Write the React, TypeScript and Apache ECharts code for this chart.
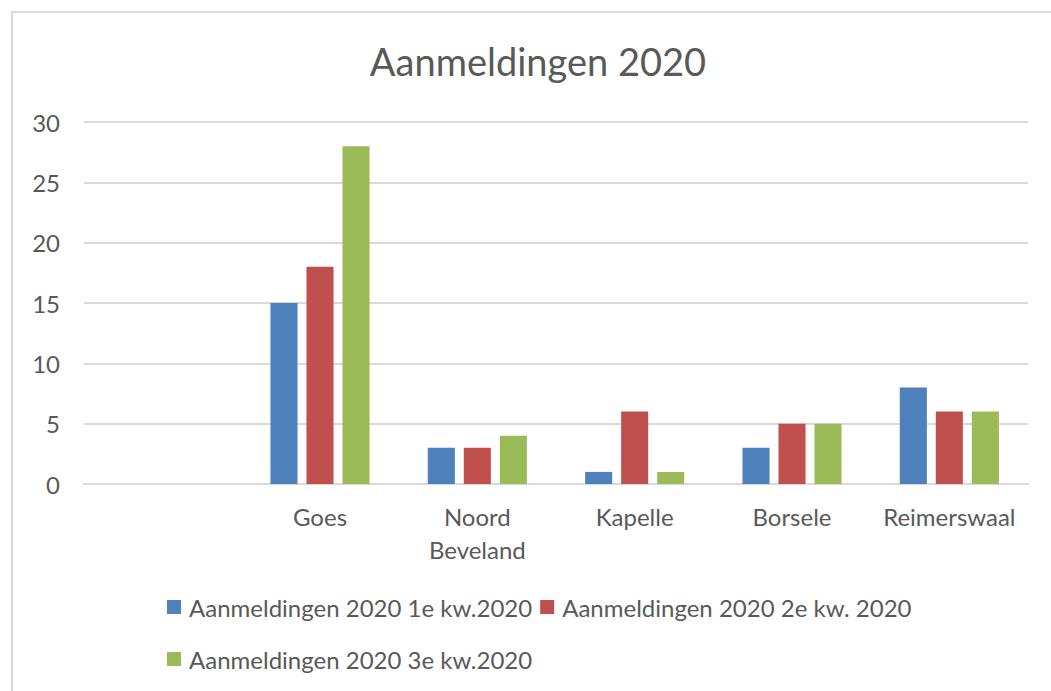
import React, { useEffect, useRef } from "react";
import * as echarts from "echarts";

const categories = ["", "Goes", "Noord\nBeveland", "Kapelle", "Borsele", "Reimerswaal"];
const seriesNames = [
  "Aanmeldingen 2020 1e kw.2020",
  "Aanmeldingen 2020 2e kw. 2020",
  "Aanmeldingen 2020 3e kw.2020",
];
const q1 = [null, 15, 3, 1, 3, 8];
const q2 = [null, 18, 3, 6, 5, 6];
const q3 = [null, 28, 4, 1, 5, 6];
const colors = ["#4f81bd", "#c0504d", "#9bbb59"];

const FONT = "Lato";
const TEXT = "#595959";

export default function App() {
  const ref = useRef<HTMLDivElement>(null);
  useEffect(() => {
    if (!ref.current) return;
    const chart = echarts.init(ref.current, undefined, { renderer: "svg" });
    const values = [q1, q2, q3];
    const legendText = { fontFamily: FONT, fontSize: 24, color: TEXT, padding: [0, 0, 0, 3] };
    chart.setOption({
      animation: false,
      backgroundColor: "#ffffff",
      textStyle: { fontFamily: FONT, color: TEXT },
      title: {
        text: "Aanmeldingen 2020",
        left: 533,
        top: 37,
        textAlign: "center",
        textStyle: { fontFamily: FONT, fontSize: 38, fontWeight: "normal", color: TEXT },
      },
      graphic: [
        {
          type: "rect",
          shape: { x: 12, y: 12, width: 1200, height: 900 },
          style: { fill: "none", stroke: "#d9d9d9", lineWidth: 2 },
          silent: true,
        },
      ],
      legend: [
        {
          data: [seriesNames[0], seriesNames[1]],
          left: 162,
          top: 590,
          itemWidth: 14,
          itemHeight: 14,
          itemGap: 8,
          icon: "rect",
          textStyle: legendText,
        },
        {
          data: [seriesNames[2]],
          left: 162,
          top: 642,
          itemWidth: 14,
          itemHeight: 14,
          itemGap: 8,
          icon: "rect",
          textStyle: legendText,
        },
      ],
      grid: { left: 84, right: 23, top: 122, bottom: 207, containLabel: false },
      xAxis: {
        type: "category",
        data: categories,
        axisLine: { show: true, lineStyle: { color: "#d9d9d9", width: 2 } },
        axisTick: { show: false },
        axisLabel: {
          fontFamily: FONT,
          fontSize: 24,
          color: TEXT,
          margin: 16,
          lineHeight: 33,
          interval: 0,
        },
      },
      yAxis: {
        type: "value",
        min: 0,
        max: 30,
        interval: 5,
        axisLine: { show: false },
        axisTick: { show: false },
        splitLine: { lineStyle: { color: "#d9d9d9", width: 2 } },
        axisLabel: { fontFamily: FONT, fontSize: 24, color: TEXT, margin: 24 },
      },
      series: values.map((v, i) => ({
        name: seriesNames[i],
        type: "bar",
        data: v,
        itemStyle: { color: colors[i] },
        barGap: "33%",
        barCategoryGap: "37%",
      })),
    });
    return () => chart.dispose();
  }, []);
  return (
    <div
      ref={ref}
      style={{ position: "fixed", left: 0, top: 0, width: 1051, height: 691 }}
    />
  );
}
